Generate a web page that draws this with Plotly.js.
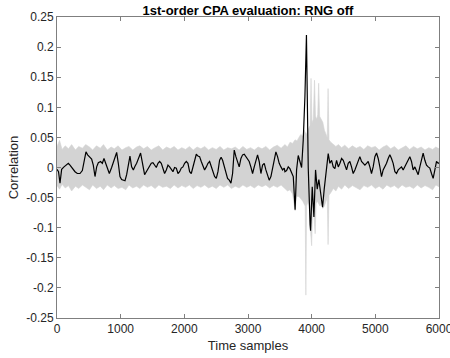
<!DOCTYPE html>
<html>
<head>
<meta charset="utf-8">
<script src="https://cdn.plot.ly/plotly-3.0.1.min.js"></script>
<style>html,body{margin:0;padding:0;background:#fff;}#chart{width:450px;height:358px;}</style>
</head>
<body>
<div id="chart"></div>
<script>
// Correct-key correlation trace (black)
const blackX = [0,24,47,73,110,141,178,204,230,256,283,319,361,398,429,455,481,513,544,570,597,623,649,685,712,738,764,790,822,858,900,937,963,989,1015,1041,1068,1094,1120,1146,1172,1199,1225,1251,
  1313,1350,1376,1403,1429,1455,1481,1507,1533,1560,1586,1612,1638,1664,1690,1717,1743,1769,1795,1821,1847,1874,1900,1926,1952,1978,2004,2031,2057,2083,2109,2135,2161,2188,2214,2240,2266,2292,2318,2345,2371,2397,2423,2449,2475,2502,2528,2554,
  2578,2601,2627,2653,2679,2706,2732,2758,2784,2810,2836,2862,2889,2915,2941,2967,2993,3019,3045,3072,3098,3124,3150,3176,3203,3229,3255,3281,3307,3333,3360,3386,3412,3438,3464,3490,3517,3543,3569,
  3580,3606,3632,3658,3685,3711,3740,3763,3789,3816,3842,3868,3894,3918,3946,3975,3983,4009,4035,4061,4087,4113,4145,4171,4197,4234,4260,4286,4313,4339,4365,4391,4418,4444,4470,4496,
  4522,4548,4574,4600,4626,4652,4679,4705,4731,4757,4783,4809,4836,4862,4888,4914,4940,4966,4993,5019,5045,5071,5097,5123,5150,5176,5202,5228,5254,5280,5307,5333,5359,5385,5411,5437,5464,5490,5516,5542,5568,5594,5621,5647,5673,5699,5725,5751,5778,5804,5830,5856,5882,5908,5935,5961,5987,6000];
const blackY = [-0.003,-0.007,-0.026,-0.003,0.001,0.004,0.007,0.004,0.000,-0.003,-0.007,-0.010,-0.010,-0.005,0.010,0.026,0.021,0.018,0.014,0.004,-0.015,0.001,0.008,0.010,0.007,0.015,0.007,-0.001,-0.010,0.000,0.015,0.025,0.007,-0.015,-0.020,-0.021,-0.022,-0.012,0.004,0.019,0.001,-0.004,0.002,0.007,
  0.024,0.001,-0.012,-0.007,-0.003,0.001,0.007,0.008,0.004,0.000,0.007,0.010,0.007,-0.001,-0.010,-0.004,0.004,0.001,-0.004,-0.007,0.000,-0.001,-0.010,-0.007,-0.001,0.001,0.007,0.010,0.007,-0.007,-0.010,0.001,0.012,0.022,0.019,0.018,0.010,0.001,-0.004,0.001,0.007,0.010,0.001,-0.004,-0.015,-0.018,-0.007,0.012,
  0.017,0.012,0.001,-0.010,-0.018,-0.021,-0.026,-0.010,0.029,0.018,0.007,0.001,0.015,0.021,0.022,0.018,0.015,0.010,0.001,-0.010,0.001,0.012,0.021,0.010,-0.010,0.004,0.007,-0.004,-0.015,-0.021,-0.015,-0.001,0.012,0.026,0.018,0.007,0.001,-0.004,-0.001,
  -0.007,-0.005,0.001,-0.002,-0.008,-0.015,-0.070,-0.004,0.020,0.008,0.000,0.046,0.118,0.220,0.000,-0.095,-0.105,-0.032,-0.082,-0.004,-0.036,-0.020,-0.043,-0.066,-0.036,-0.004,0.023,0.007,0.012,0.001,-0.002,0.012,0.001,0.007,0.015,0.012,
  0.004,-0.004,0.007,0.010,0.001,-0.010,-0.004,0.004,0.010,0.018,0.010,0.007,0.004,0.007,0.010,0.001,-0.010,0.001,0.018,0.024,0.015,0.001,-0.015,-0.004,0.001,0.007,0.015,0.021,0.015,0.007,-0.007,-0.010,-0.004,-0.001,0.001,-0.004,0.001,0.007,0.012,0.018,0.010,-0.004,0.001,-0.007,-0.012,0.001,0.012,0.024,0.012,0.004,0.001,-0.001,-0.010,-0.018,-0.004,0.010,0.007,0.008];

// Envelope of the other key hypotheses (gray), upper edge
const grayUpX = [0,40,80,130,180,230,290,340,400,450,510,560,620,680,730,790,850,900,960,1020,1080,1130,1190,1250,1300,1360,1420,1480,1540,1600,1660,1720,1780,1840,1900,1960,2020,2080,2140,2200,2260,2320,2380,2440,2500,2560,2620,2680,2740,2800,2860,2920,2980,3040,3100,3160,3220,3280,3340,3400,3460,3520,
  3580,3620,3660,3700,3740,3770,3800,3830,3860,3880,3900,3920,3940,3960,3975,3990,4005,4025,4045,4060,4080,4095,4110,4125,4150,4175,4200,4225,4245,4258,4272,4300,4340,
  4380,4420,4470,4520,4580,4640,4700,4760,4820,4880,4940,5000,5060,5120,5180,5240,5300,5360,5420,5480,5540,5600,5660,5720,5780,5840,5900,5950,6000];
const grayUpY = [0.035,0.045,0.030,0.036,0.031,0.038,0.029,0.035,0.032,0.038,0.034,0.029,0.036,0.032,0.038,0.029,0.034,0.031,0.036,0.029,0.033,0.035,0.029,0.034,0.036,0.031,0.035,0.029,0.033,0.036,0.029,0.034,0.031,0.035,0.029,0.033,0.030,0.035,0.029,0.034,0.031,0.035,0.029,0.033,0.030,0.035,0.029,0.033,0.031,0.034,0.029,0.035,0.030,0.033,0.029,0.034,0.031,0.035,0.029,0.034,0.037,0.032,
  0.038,0.034,0.042,0.040,0.046,0.044,0.050,0.055,0.052,0.062,0.058,0.055,0.062,0.066,0.070,0.148,0.074,0.080,0.145,0.085,0.080,0.088,0.140,0.085,0.080,0.075,0.062,0.055,0.050,0.131,0.046,0.042,0.038,
  0.035,0.038,0.033,0.037,0.031,0.036,0.032,0.035,0.030,0.036,0.033,0.035,0.029,0.034,0.037,0.031,0.035,0.029,0.033,0.036,0.030,0.035,0.031,0.034,0.029,0.033,0.030,0.034,0.031];
// lower edge
const grayLoX = [0,40,80,130,180,230,290,340,400,450,510,560,620,680,730,790,850,900,960,1020,1080,1130,1190,1250,1300,1360,1420,1480,1540,1600,1660,1720,1780,1840,1900,1960,2020,2080,2140,2200,2260,2320,2380,2440,2500,2560,2620,2680,2740,2800,2860,2920,2980,3040,3100,3160,3220,3280,3340,3400,3460,3520,
  3580,3620,3660,3700,3740,3760,3800,3830,3860,3880,3898,3909,3920,3945,3965,3985,4000,4015,4035,4055,4070,4090,4110,4130,4150,4175,4200,4225,4245,4258,4272,4300,4340,
  4380,4420,4470,4520,4580,4640,4700,4760,4820,4880,4940,5000,5060,5120,5180,5240,5300,5360,5420,5480,5540,5600,5660,5720,5780,5840,5900,5950,6000];
const grayLoY = [-0.030,-0.036,-0.028,-0.034,-0.030,-0.039,-0.031,-0.035,-0.029,-0.033,-0.037,-0.029,-0.035,-0.031,-0.037,-0.029,-0.034,-0.030,-0.035,-0.033,-0.037,-0.029,-0.034,-0.031,-0.035,-0.029,-0.033,-0.030,-0.035,-0.029,-0.033,-0.031,-0.035,-0.029,-0.034,-0.030,-0.033,-0.029,-0.035,-0.030,-0.033,-0.029,-0.034,-0.031,-0.035,-0.029,-0.033,-0.029,-0.035,-0.031,-0.034,-0.029,-0.033,-0.030,-0.034,-0.029,-0.032,-0.029,-0.034,-0.030,-0.033,-0.029,
  -0.035,-0.039,-0.037,-0.044,-0.072,-0.048,-0.048,-0.052,-0.056,-0.060,-0.064,-0.212,-0.064,-0.056,-0.064,-0.110,-0.130,-0.064,-0.080,-0.110,-0.060,-0.056,-0.060,-0.064,-0.060,-0.068,-0.064,-0.056,-0.050,-0.128,-0.046,-0.042,-0.035,
  -0.039,-0.031,-0.036,-0.029,-0.035,-0.030,-0.034,-0.037,-0.030,-0.033,-0.029,-0.035,-0.031,-0.036,-0.029,-0.033,-0.030,-0.035,-0.029,-0.033,-0.031,-0.035,-0.029,-0.034,-0.030,-0.033,-0.037,-0.029,-0.032];

const xTicks = [0,1000,2000,3000,4000,5000,6000];
const xTickLabels = ['0','1000','2000','3000','4000','5000','6000'];
const yTicks = [-0.25,-0.2,-0.15,-0.1,-0.05,0,0.05,0.1,0.15,0.2,0.25];
const yTickLabels = ['-0.25','-0.2','-0.15','-0.1','-0.05','0','0.05','0.1','0.15','0.2','0.25'];

const FONT = 'Liberation Sans, Arial, Helvetica, sans-serif';
const envX = grayUpX.concat(grayLoX.slice().reverse());
const envY = grayUpY.concat(grayLoY.slice().reverse());

const traces = [
  {x: envX, y: envY, type: 'scatter', mode: 'lines', fill: 'toself',
   fillcolor: '#d3d3d3', line: {color: '#d3d3d3', width: 0.6}, hoverinfo: 'skip', showlegend: false},
  {x: blackX, y: blackY, type: 'scatter', mode: 'lines',
   line: {color: '#000000', width: 1.2}, showlegend: false}
];

const axisCommon = {
  showline: true, linecolor: '#7f7f7f', linewidth: 1, mirror: 'ticks',
  ticks: 'inside', ticklen: 4, tickcolor: '#7f7f7f', tickwidth: 1,
  showgrid: false, zeroline: false, ticklabeloverflow: 'allow',
  tickfont: {family: FONT, size: 12, color: '#262626'}
};

const layout = {
  width: 450, height: 358,
  margin: {l: 57, r: 11, t: 17, b: 40},
  paper_bgcolor: '#ffffff', plot_bgcolor: '#ffffff',
  showlegend: false,
  title: {text: '<b>1st-order CPA evaluation: RNG off</b>', font: {family: FONT, size: 13, color: '#000000'},
          x: 0.5, xref: 'paper', xanchor: 'center', y: 1 - 10/358, yref: 'container', yanchor: 'middle'},
  xaxis: Object.assign({}, axisCommon, {
    range: [0, 6000], tickvals: xTicks, ticktext: xTickLabels,
    title: {text: 'Time samples', font: {family: FONT, size: 13, color: '#262626'}, standoff: 5}
  }),
  yaxis: Object.assign({}, axisCommon, {
    range: [-0.25, 0.25], tickvals: yTicks, ticktext: yTickLabels,
    title: {text: 'Correlation', font: {family: FONT, size: 13, color: '#262626'}, standoff: 4}
  })
};

Plotly.newPlot('chart', traces, layout, {staticPlot: true, displayModeBar: false});
</script>
</body>
</html>
